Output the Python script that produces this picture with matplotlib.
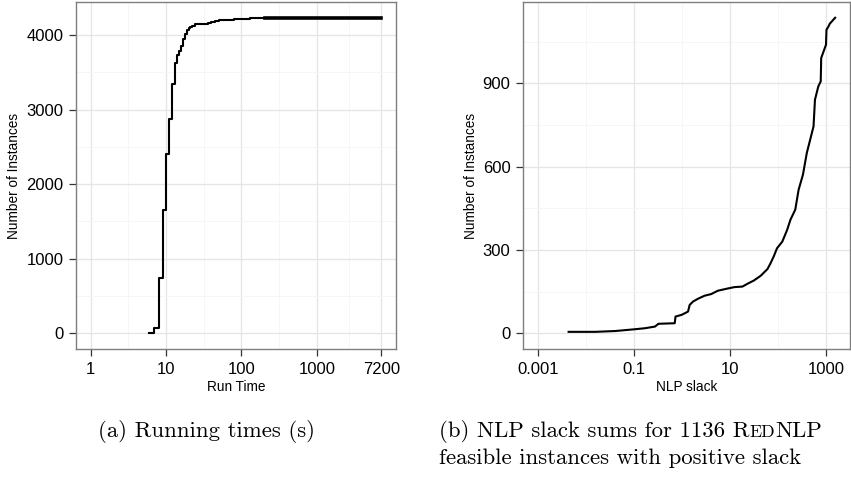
import numpy as np
import matplotlib.pyplot as plt
from matplotlib.ticker import FixedLocator, FixedFormatter, NullFormatter

# run times (s) and cumulative number of instances solved
run_time   = [6, 7, 8, 9, 10, 11, 12, 13, 14, 15, 16, 17, 18, 19, 20, 21, 22, 24, 26,
              30, 36, 40, 45, 50, 64, 80, 96, 130, 205, 7200]
run_count  = [4, 72, 742, 1650, 2400, 2875, 3340, 3625, 3725, 3790, 3855, 3940, 4010,
              4060, 4090, 4110, 4125, 4140, 4148, 4152, 4156, 4170, 4188, 4194, 4204,
              4212, 4220, 4224, 4230, 4230]
run_xticks = [1, 10, 100, 1000, 7200]
run_xlabels = ['1', '10', '100', '1000', '7200']
run_yticks = [0, 1000, 2000, 3000, 4000]

# NLP slack sums and cumulative number of instances
slack       = [0.00437, 0.0158, 0.0412, 0.1, 0.17, 0.275, 0.324, 0.708, 0.735, 0.977,
               1.15, 1.34, 1.45, 1.70, 2.15, 2.95, 4.07, 5.57, 8.95, 12.3, 18.2, 23.1,
               31.6, 43.7, 60.3, 70, 81.3, 95.5, 123, 155, 182, 229, 269, 331, 398,
               468, 550, 589, 692, 776, 794, 1000, 1023, 1120, 1202, 1549]
slack_count = [5, 5, 8, 14, 18, 24, 34, 36, 60, 66, 72, 78, 102, 114, 124, 135, 141,
               153, 161, 166, 168, 178, 190, 207, 231, 252, 276, 306, 330, 372, 409,
               445, 517, 571, 649, 697, 745, 841, 889, 907, 991, 1039, 1093, 1104,
               1115, 1136]
slack_xticks = [0.001, 0.1, 10, 1000]
slack_xlabels = ['0.001', '0.1', '10', '1000']
slack_yticks = [0, 300, 600, 900]

caption_a = '(a) Running times (s)'
caption_b1 = ['(b) NLP slack sums for 1136 R', 'ED', 'NLP']
caption_b2 = 'feasible instances with positive slack'

W, H = 851, 478
fig = plt.figure(figsize=(W / 100, H / 100), dpi=100)
plt.rcParams['font.family'] = ['Liberation Sans', 'DejaVu Sans']


def style_axes(ax, xlo, xhi, ylo, yhi, xticks, xlabels, yticks, xminor, yminor):
    lx0, lx1 = np.log10(xlo), np.log10(xhi)
    px = 0.05 * (lx1 - lx0)
    ax.set_xscale('log')
    ax.set_xlim(10 ** (lx0 - px), 10 ** (lx1 + px))
    py = 0.05 * (yhi - ylo)
    ax.set_ylim(ylo - py, yhi + py)
    ax.xaxis.set_major_locator(FixedLocator(xticks))
    ax.xaxis.set_major_formatter(FixedFormatter(xlabels))
    ax.xaxis.set_minor_locator(FixedLocator(xminor))
    ax.xaxis.set_minor_formatter(NullFormatter())
    ax.yaxis.set_major_locator(FixedLocator(yticks))
    ax.yaxis.set_minor_locator(FixedLocator(yminor))
    ax.grid(which='major', color='#E5E5E5', lw=0.9)
    ax.grid(which='minor', color='#F5F5F5', lw=0.6)
    ax.set_axisbelow(True)
    for s in ax.spines.values():
        s.set_color('#7F7F7F')
        s.set_linewidth(1.0)
    ax.tick_params(which='major', direction='out', length=5, width=0.9,
                   color='#333333', labelsize=12, pad=4, labelcolor='black')
    ax.tick_params(which='minor', length=0)


# left panel: running times
ax1 = fig.add_axes([76 / W, (H - 349) / H, 320 / W, 347 / H])
ax1.step(run_time[:-1], run_count[:-1], where='post', color='black', lw=1.5)
ax1.step(run_time[-2:], run_count[-2:], where='post', color='black', lw=2.6)
style_axes(ax1, 1, 7200, 0, max(run_count), run_xticks, run_xlabels, run_yticks,
           [10 ** 0.5, 10 ** 1.5, 10 ** 2.5, np.sqrt(1000 * 7200)],
           [500, 1500, 2500, 3500])
ax1.set_xlabel('Run Time', fontsize=9.8)
ax1.set_ylabel('Number of Instances', fontsize=9.8)
ax1.xaxis.set_label_coords(0.5, -0.11)
ax1.yaxis.set_label_coords(-0.194, 0.5)
ax1.xaxis.label.set_va('center')
ax1.yaxis.label.set_va('center')

# right panel: NLP slack
ax2 = fig.add_axes([523 / W, (H - 349) / H, 327 / W, 347 / H])
ax2.plot(slack, slack_count, color='black', lw=1.5)
style_axes(ax2, 0.001, max(slack), 0, max(slack_count), slack_xticks, slack_xlabels,
           slack_yticks, [0.01, 1, 100], [150, 450, 750, 1050])
ax2.set_xlabel('NLP slack', fontsize=9.8)
ax2.set_ylabel('Number of Instances', fontsize=9.8)
ax2.xaxis.set_label_coords(0.5, -0.11)
ax2.yaxis.set_label_coords(-0.159, 0.5)
ax2.xaxis.label.set_va('center')
ax2.yaxis.label.set_va('center')

# captions (LaTeX-like)
cap_font = 'cmr10'
fs = 16.4
fig.text(206 / W, 1 - 437 / H, caption_a, family=cap_font, fontsize=fs,
         ha='center', va='baseline')

renderer = fig.canvas.get_renderer()
x = 439
sizes = [fs, fs * 0.78, fs]
for piece, size in zip(caption_b1, sizes):
    t = fig.text(x / W, 1 - 437 / H, piece, family=cap_font, fontsize=size,
                 ha='left', va='baseline')
    x += t.get_window_extent(renderer).width
fig.text(439 / W, 1 - 464 / H, caption_b2, family=cap_font, fontsize=fs,
         ha='left', va='baseline')

fig.savefig('out.png', dpi=100)
